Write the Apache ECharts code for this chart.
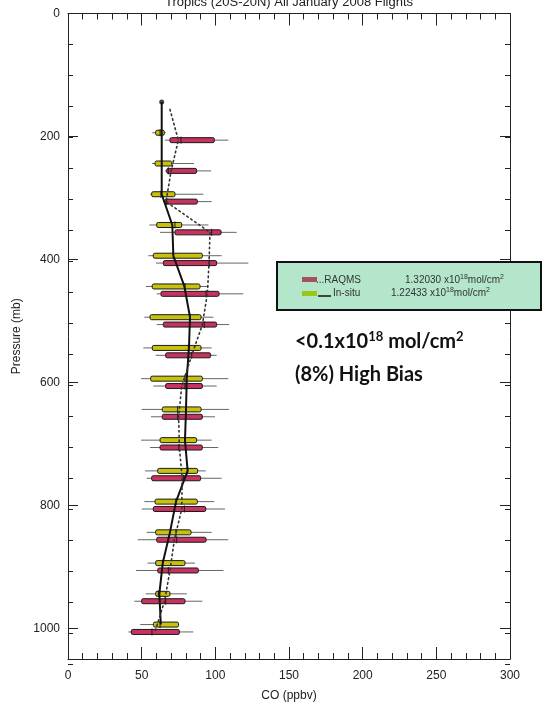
<!DOCTYPE html>
<html>
<head>
<meta charset="utf-8">
<script src="https://cdn.jsdelivr.net/npm/echarts@6/dist/echarts.min.js"></script>
<style>html,body{margin:0;padding:0;background:#fff}#c{width:545px;height:707px}</style>
</head>
<body>
<div id="c"></div>
<script>
// ---- data ----
const titleText = 'Tropics (20S-20N) All January 2008 Flights';
const levels = [200,250,300,350,400,450,500,550,600,650,700,750,800,850,900,950,1000];
// [low whisker, q1, median, q3, high whisker] in ppbv
const insituBox = [
  [57.2,59.5,62.5,65.4,66.3],
  [57.0,59.1,63.6,70.4,85.5],
  [55.7,56.8,63.1,72.6,91.9],
  [55.2,60.2,72.6,77.2,95.3],
  [54.5,57.9,71.5,91.2,104.3],
  [52.9,57.2,79.4,89.6,95.3],
  [51.8,55.7,82.8,90.3,98.7],
  [51.1,57.2,81.7,90.3,97.5],
  [49.6,56.1,79.4,91.2,108.8],
  [50.0,64.0,74.4,90.3,109.3],
  [49.6,62.5,79.4,87.3,97.5],
  [52.3,60.9,81.2,88.0,93.5],
  [51.8,59.1,73.3,87.8,99.3],
  [53.4,59.5,73.3,83.5,97.5],
  [53.9,59.5,64.3,79.4,86.2],
  [52.7,59.5,61.3,69.2,80.6],
  [49.0,58.0,62.5,75.0,75.0]
];
const raqmsBox = [
  [65.8,69.2,76.7,99.3,108.8],
  [65.8,67.0,68.1,87.3,97.1],
  [64.7,65.8,67.0,87.8,97.5],
  [62.5,72.6,97.5,103.9,114.5],
  [59.7,64.7,95.9,100.9,122.4],
  [60.2,63.1,93.7,102.5,119.0],
  [60.2,64.7,92.5,100.9,109.3],
  [59.5,66.3,83.9,96.8,100.9],
  [57.9,66.3,79.4,91.2,100.9],
  [56.3,64.0,74.4,91.2,99.8],
  [55.7,62.5,75.3,91.2,102.0],
  [53.4,56.8,78.3,90.0,104.3],
  [50.0,57.9,79.0,93.5,106.6],
  [47.3,60.2,73.8,93.7,108.8],
  [46.2,60.9,68.1,88.5,105.5],
  [45.0,50.0,66.3,79.4,91.2],
  [41.0,43.0,57.0,75.6,85.0]
];
const meanLevels = [150,200,250,300,350,400,450,500,550,600,650,700,750,800,850,900,950,1000];
const insituMean = [63.6,63.6,63.6,63.6,70.8,71.5,79.0,82.8,82.1,80.6,80.1,79.4,81.2,73.3,69.2,64.3,62.0,63.0];
const raqmsMean  = [69.2,74.9,70.0,66.5,96.4,95.7,94.6,91.2,84.0,77.2,75.1,75.6,77.5,77.2,72.2,69.2,65.5,59.0];
const legendNames = ['...RAQMS','In-situ'];
const legendValues = ['1.32030','1.22433'];

// ---- chart ----
const INS_OFF = -6, RAQ_OFF = 6;
const FONT = 'Liberation Sans, Arial, sans-serif';
const chart = echarts.init(document.getElementById('c'), null, {renderer:'canvas'});

function boxRender(fill, off){
  return function(params, api){
    const p = api.value(0) + off;
    const lo = api.coord([api.value(1), p]);
    const q1 = api.coord([api.value(2), p]);
    const md = api.coord([api.value(3), p]);
    const q3 = api.coord([api.value(4), p]);
    const hi = api.coord([api.value(5), p]);
    const h = 5, y = lo[1];
    return {type:'group', children:[
      {type:'line', shape:{x1:lo[0],y1:y,x2:hi[0],y2:y}, style:{stroke:'#666', lineWidth:1}},
      {type:'rect', shape:{x:q1[0], y:y-h/2, width:q3[0]-q1[0], height:h, r:1.5}, style:{fill:fill, stroke:'#1a1a1a', lineWidth:1}},
      {type:'line', shape:{x1:md[0],y1:y-h/2-1,x2:md[0],y2:y+h/2+1}, style:{stroke:'#1a1a1a', lineWidth:1}}
    ]};
  };
}

const axisCommonX = {
  type:'value', min:0, max:300, interval:50,
  axisLine:{show:true, onZero:false, lineStyle:{color:'#222', width:1}},
  axisTick:{show:true, inside:true, length:12, lineStyle:{color:'#222'}},
  minorTick:{show:true, splitNumber:5, length:6, lineStyle:{color:'#222'}},
  splitLine:{show:false}, minorSplitLine:{show:false}
};
const axisMajorY = {
  type:'value', min:0, max:1050, interval:200, inverse:true,
  axisLine:{show:true, onZero:false, lineStyle:{color:'#222', width:1}},
  axisTick:{show:true, inside:true, length:10, lineStyle:{color:'#222'}},
  splitLine:{show:false}
};
const axisMinorY = {
  type:'value', min:0, max:1050, interval:50, inverse:true, gridIndex:1,
  axisLine:{show:false, onZero:false},
  axisTick:{show:true, inside:true, length:5, lineStyle:{color:'#222'}},
  axisLabel:{show:false}, splitLine:{show:false}
};

const option = {
  animation:false,
  backgroundColor:'#fff',
  grid:[
    {left:68, right:35, top:13.5, bottom:43},
    {left:68, right:35, top:13.5, bottom:43}
  ],
  xAxis:[
    Object.assign({}, axisCommonX, {position:'bottom', gridIndex:0,
      axisLabel:{show:true, fontSize:12, color:'#222', fontFamily:FONT, margin:11},
      name:'CO (ppbv)', nameLocation:'middle', nameGap:31,
      nameTextStyle:{fontSize:12, color:'#222', fontFamily:FONT}}),
    Object.assign({}, axisCommonX, {position:'top', gridIndex:0, axisLabel:{show:false}}),
    {type:'value', min:0, max:300, gridIndex:1, show:false, axisLine:{onZero:false}}
  ],
  yAxis:[
    Object.assign({}, axisMajorY, {position:'left', gridIndex:0,
      axisLabel:{show:true, fontSize:12, color:'#222', fontFamily:FONT, margin:8, showMaxLabel:false,
        formatter:function(v){return String(v);}},
      name:'Pressure (mb)', nameLocation:'middle', nameGap:44, nameRotate:90,
      nameTextStyle:{fontSize:12, color:'#222', fontFamily:FONT}}),
    Object.assign({}, axisMajorY, {position:'right', gridIndex:0, axisLabel:{show:false}}),
    Object.assign({}, axisMinorY, {position:'left'}),
    Object.assign({}, axisMinorY, {position:'right'})
  ],
  series:[
    {type:'custom', name:'In-situ', xAxisIndex:0, yAxisIndex:0, clip:false, z:2,
     renderItem: boxRender('#c8c20c', INS_OFF),
     encode:{x:[1,2,3,4,5], y:0},
     data: levels.map((l,i)=>[l].concat(insituBox[i]))},
    {type:'custom', name:'RAQMS', xAxisIndex:0, yAxisIndex:0, clip:false, z:2,
     renderItem: boxRender('#c8325e', RAQ_OFF),
     encode:{x:[1,2,3,4,5], y:0},
     data: levels.map((l,i)=>[l].concat(raqmsBox[i]))},
    {type:'line', xAxisIndex:0, yAxisIndex:0, z:5, showSymbol:false, silent:true,
     lineStyle:{color:'#111', width:2},
     data: meanLevels.map((l,i)=>[insituMean[i], l+INS_OFF])},
    {type:'line', xAxisIndex:0, yAxisIndex:0, z:5, showSymbol:false, silent:true,
     lineStyle:{color:'#333', width:1.6, type:[1.6,3.2], cap:'round'},
     data: meanLevels.map((l,i)=>[raqmsMean[i], l+RAQ_OFF])},
    {type:'scatter', xAxisIndex:0, yAxisIndex:0, z:6, symbolSize:5, itemStyle:{color:'#111'},
     data:[[insituMean[0], meanLevels[0]+INS_OFF]]}
  ],
  graphic:[
    {type:'text', x:289, y:8.5, z:10, style:{text:titleText, align:'center', verticalAlign:'bottom',
      font:'13px '+FONT, fill:'#222'}},
    {type:'rect', z:10, shape:{x:277, y:262, width:264, height:48}, style:{fill:'#b4e6cc', stroke:'#111', lineWidth:2}},
    {type:'rect', z:11, shape:{x:302, y:277, width:15, height:5}, style:{fill:'#a5525f'}},
    {type:'text', z:11, x:316, y:280, style:{text:legendNames[0], verticalAlign:'middle', font:'10px '+FONT, fill:'#333'}},
    {type:'text', z:11, x:405, y:280, style:{
      text:legendValues[0]+' x10{s|18}mol/cm{s|2}', verticalAlign:'middle', font:'10px '+FONT, fill:'#333',
      rich:{s:{fontSize:7, verticalAlign:'top', padding:[0,0,6,0], fill:'#333', fontFamily:FONT}}}},
    {type:'rect', z:11, shape:{x:302, y:291, width:15, height:5}, style:{fill:'#99c61a'}},
    {type:'line', z:11, shape:{x1:318, y1:296, x2:331, y2:296}, style:{stroke:'#111', lineWidth:1.5}},
    {type:'text', z:11, x:333, y:293, style:{text:legendNames[1], verticalAlign:'middle', font:'10px '+FONT, fill:'#333'}},
    {type:'text', z:11, x:391, y:293, style:{
      text:legendValues[1]+' x10{s|18}mol/cm{s|2}', verticalAlign:'middle', font:'10px '+FONT, fill:'#333',
      rich:{s:{fontSize:7, verticalAlign:'top', padding:[0,0,6,0], fill:'#333', fontFamily:FONT}}}},
    {type:'text', z:11, x:295, y:342, style:{
      text:'<0.1x10{s|18} mol/cm{s|2}', verticalAlign:'middle', font:'bold 20px Lato, sans-serif', fill:'#111',
      rich:{s:{fontSize:13, fontWeight:'bold', fontFamily:'Lato, sans-serif', padding:[0,0,10,0], fill:'#111'}}}},
    {type:'text', z:11, x:295, y:375, style:{
      text:'(8%) High Bias', verticalAlign:'middle', font:'bold 20px Lato, sans-serif', fill:'#111'}}
  ]
};
chart.setOption(option);
</script>
</body>
</html>
